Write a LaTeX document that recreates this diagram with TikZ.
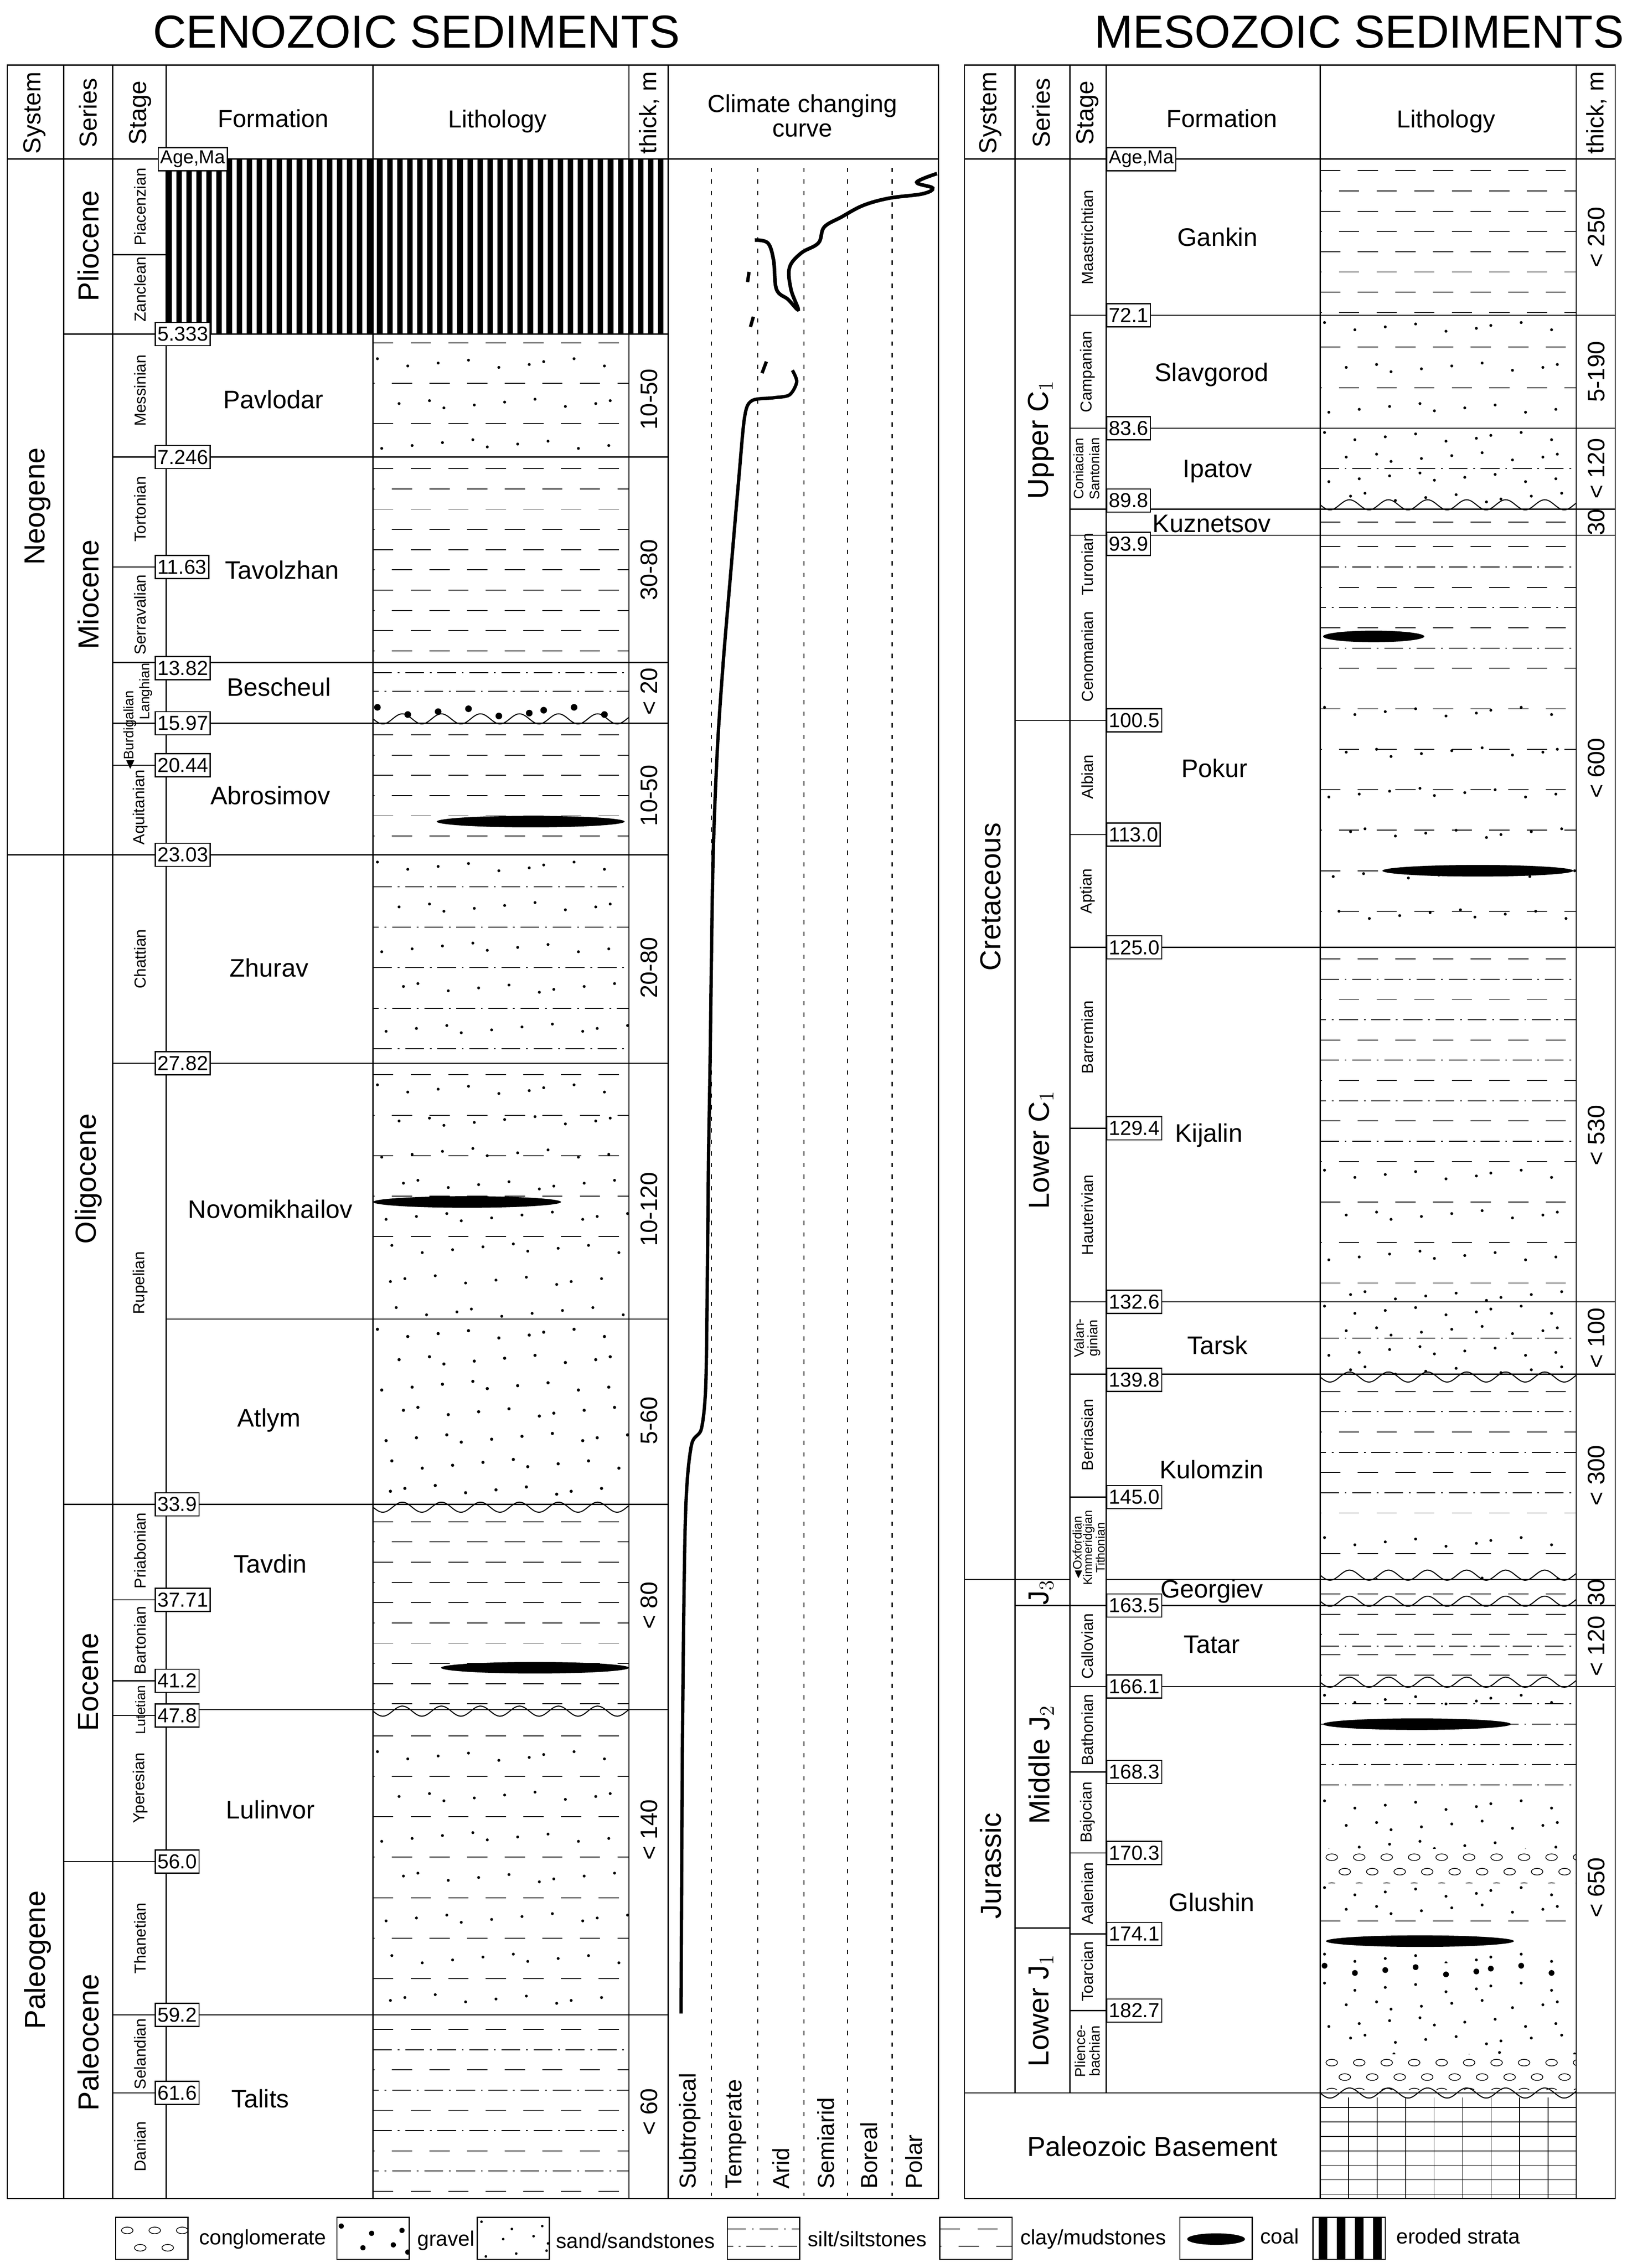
\documentclass[tikz,border=0pt]{standalone}
\usepackage{amssymb}
\usepackage{fontspec}
\setmainfont{Liberation Sans}
\begin{document}
\newcommand\fs[1]{\fontsize{#1}{#1}\selectfont}
\newcommand\Lclay[6]{\begin{scope}\clip (#1,#3) rectangle (#2,#4);
 \foreach \k in {0,...,30}{\pgfmathsetmacro\ph{mod(\k,2)*13}\pgfmathsetmacro\yy{#3+#6+\k*#5}
 \draw[line width=0.6pt,dash pattern=on 14pt off 12pt,dash phase=\ph pt] (#1,\yy) -- (#2,\yy);}\end{scope}}
\newcommand\Lsilt[6]{\begin{scope}\clip (#1,#3) rectangle (#2,#4);
 \foreach \k in {0,...,30}{\pgfmathsetmacro\ph{mod(\k,2)*9}\pgfmathsetmacro\yy{#3+#6+\k*#5}
 \draw[line width=0.6pt,dash pattern=on 13pt off 4pt on 1.2pt off 4pt,dash phase=\ph pt] (#1,\yy) -- (#2,\yy);}\end{scope}}
\newcommand\Ldots[7]{\begin{scope}\clip (#1,#3) rectangle (#2,#4);
 \foreach \k in {0,...,30}{\foreach \j in {0,...,9}{
 \pgfmathsetmacro\xx{#1+8+\j*19+mod(\k*7+\j*13,11)-5+mod(\k,2)*8}\pgfmathsetmacro\yy{#3+#6+\k*#5+mod(\j*5+\k*3,7)-3}
 \fill (\xx,\yy) circle (#7);}}\end{scope}}
\newcommand\Lcong[6]{\begin{scope}\clip (#1,#3) rectangle (#2,#4);
 \foreach \k in {0,...,10}{\foreach \j in {0,...,9}{
 \pgfmathsetmacro\xx{#1+8+\j*19+mod(\k,2)*9}\pgfmathsetmacro\yy{#3+#6+\k*#5}
 \draw[line width=0.5pt] (\xx,\yy) ellipse (4 and 2.3);}}\end{scope}}
\newcommand\Lcoal[3]{\fill (#1,#2) ellipse (#3 and 4);}
\newcommand\Lwave[3]{\draw[line width=0.7pt] plot[domain=0:#2-#1,samples=90,smooth] ({#1+\x},{#3-3+3.5*sin(\x*13.33)});}
\begin{tikzpicture}[x=1pt,y=-1pt,line width=0.8pt,
  age/.style={draw,fill=white,inner sep=1.5pt,font=\fs{14},anchor=west,minimum height=16pt},
  stg/.style={rotate=90,font=\fs{11}},
  ser/.style={rotate=90,font=\fs{20}},
  frm/.style={font=\fs{17.5}},
  thk/.style={rotate=90,font=\fs{16.5}},
  hd/.style={font=\fs{17}},
  clim/.style={rotate=90,font=\fs{16},anchor=west}]
\useasboundingbox (0,0) rectangle (1125,1568);
\node[font=\fs{32}] (t1) at (288,22) {CENOZOIC SEDIMENTS};
\node[font=\fs{32}] (t2) at (940,22) {MESOZOIC SEDIMENTS};
% ===== LEFT =====
\foreach \i in {0,...,49}{\fill (115+\i*6.94,110) rectangle ++(3.8,121);}
\def\a{258}\def\b{435}
\Lclay{\a}{\b}{231}{316}{28}{6}\Ldots{\a}{\b}{231}{316}{28}{20}{1}
\Lclay{\a}{\b}{316}{458}{14}{8}
\Lsilt{\a}{\b}{458}{486}{13}{7}\Ldots{\a}{\b}{486}{500}{30}{6}{2.3}
\Lclay{\a}{\b}{500}{591}{14}{8}\Lcoal{367}{568}{65}
\Ldots{\a}{\b}{591}{735}{28}{8}{1}\Lsilt{\a}{\b}{591}{735}{28}{22}
\Lclay{\a}{\b}{735}{860}{28}{8}\Ldots{\a}{\b}{735}{912}{22}{18}{1}\Lcoal{323}{831}{65}
\Ldots{\a}{\b}{912}{1040}{18}{10}{1.1}
\Lclay{\a}{\b}{1040}{1182}{14}{12}\Lcoal{370}{1153}{65}
\Lclay{\a}{\b}{1186}{1393}{28}{14}\Ldots{\a}{\b}{1186}{1393}{28}{28}{1}
\Lclay{\a}{\b}{1393}{1520}{28}{10}\Lsilt{\a}{\b}{1393}{1520}{28}{24}
\Lwave{\a}{\b}{500}\Lwave{\a}{\b}{1045}\Lwave{\a}{\b}{1186}
\draw (5,45) rectangle (649,1520);
\foreach \x in {44,78,115,258,435,462}{\draw (\x,45) -- (\x,1520);}
\draw (5,110) -- (649,110);
\foreach \y in {591}{\draw (5,\y) -- (44,\y);}
\foreach \y in {231,591,1040,1287}{\draw (44,\y) -- (78,\y);}
\foreach \y in {176,231,316,392,458,500,529,591,735,1040,1106,1162,1186,1287,1393,1447}{\draw (78,\y) -- (115,\y);}
\foreach \y in {231,316,458,500,591,735,912,1040,1182,1393}{\draw (115,\y) -- (462,\y);}
\node[ser,font=\fs{17}] (h1) at (24,78) {System};
\node[ser,font=\fs{17}] (h2) at (61,78) {Series};
\node[ser,font=\fs{17}] (h3) at (97,78) {Stage};
\node[hd] (h4) at (189,82) {Formation};
\node[hd] (h5) at (344,84) {Lithology};
\node[thk] (h6) at (449,78) {thick, m};
\node[hd,align=center] (h7) at (555,80) {Climate changing\\curve};
\node[age,font=\fs{13}] (am1) at (109,110) {Age,Ma};
\node[ser] (n1) at (26,350) {Neogene};
\node[ser] (n2) at (26,1355) {Paleogene};
\node[ser] (s1) at (61,170) {Pliocene};
\node[ser] (s2) at (61,411) {Miocene};
\node[ser] (s3) at (61,815) {Oligocene};
\node[ser] (s4) at (61,1163) {Eocene};
\node[ser] (s5) at (61,1412) {Paleocene};
\node[stg] (g1) at (97,143) {Piacenzian};
\node[stg] (g2) at (97,200) {Zanclean};
\node[stg] (g3) at (97,270) {Messinian};
\node[stg] (g4) at (97,352) {Tortonian};
\node[stg] (g5) at (97,425) {Serravalian};
\node[stg,font=\fs{9.5}] (g6) at (101,478) {Langhian};
\node[stg,font=\fs{9.5}] (g7) at (90,505) {$\blacktriangleleft$Burdigalian};
\node[stg] (g8) at (97,558) {Aquitanian};
\node[stg] (g9) at (97,663) {Chattian};
\node[stg] (g10) at (97,887) {Rupelian};
\node[stg] (g11) at (97,1072) {Priabonian};
\node[stg] (g12) at (97,1134) {Bartonian};
\node[stg,font=\fs{9.5}] (g13) at (97,1182) {Lutetian};
\node[stg] (g14) at (97,1236) {Yperesian};
\node[stg] (g15) at (97,1340) {Thanetian};
\node[stg] (g16) at (97,1420) {Selandian};
\node[stg] (g17) at (97,1484) {Danian};
\foreach \y/\t in {231/5.333,316/7.246,392/11.63,462/13.82,500/15.97,529/20.44,591/23.03,735/27.82,1040/33.9,1106/37.71,1162/41.2,1186/47.8,1287/56.0,1393/59.2,1447/61.6}{\node[age] at (107,\y) {\t};}
\node[frm] (f1) at (189,276) {Pavlodar};
\node[frm] (f2) at (195,394) {Tavolzhan};
\node[frm] (f3) at (193,475) {Bescheul};
\node[frm] (f4) at (187,550) {Abrosimov};
\node[frm] (f5) at (186,669) {Zhurav};
\node[frm] (f6) at (187,836) {Novomikhailov};
\node[frm] (f7) at (186,982) {Atlym};
\node[frm] (f8) at (187,1081) {Tavdin};
\node[frm] (f9) at (187,1251) {Lulinvor};
\node[frm] (f10) at (180,1451) {Talits};
\foreach \y/\t in {276/10-50,394/30-80,478/< 20,550/10-50,669/20-80,836/10-120,982/5-60,1110/< 80,1265/< 140,1460/< 60}{\node[thk] at (449,\y) {\t};}
\foreach \x in {492,524,556,586,617}{\draw[line width=0.7pt,dash pattern=on 3pt off 5pt] (\x,116) -- (\x,1518);}
\node[clim] (c1) at (477,1517) {Subtropical};
\node[clim] (c2) at (509,1517) {Temperate};
\node[clim] (c3) at (540,1517) {Arid};
\node[clim] (c4) at (571,1517) {Semiarid};
\node[clim] (c5) at (601,1517) {Boreal};
\node[clim] (c6) at (632,1517) {Polar};
\draw[line width=2.3pt] plot[smooth,tension=0.5] coordinates {(471,1392) (472,1200) (474,1050) (478,1000) (485,988) (488,960) (489,900) (490,800) (491,740) (493,600) (496,520) (500,460) (505,400) (511,330) (515,288) (520,277) (535,275) (546,273) (551,264) (548,256)};
\draw[line width=2.3pt] (527,258) -- (530,250) (519,226) -- (521,219) (517,195) -- (518,188);
\draw[line width=2.5pt] plot[smooth,tension=0.6] coordinates {(522,166) (531,168) (535,180) (537,200) (545,207) (552,214) (547,200) (546,185) (554,175) (566,168) (570,157) (582,150) (597,142) (615,137) (638,134) (645,130) (634,126) (648,120)};
% ===== RIGHT =====
\def\a{913}\def\b{1090}
\Lclay{\a}{\b}{110}{218}{14}{8}
\Ldots{\a}{\b}{218}{296}{28}{8}{1}\Lclay{\a}{\b}{218}{296}{28}{22}
\Ldots{\a}{\b}{296}{352}{14}{6}{1}\Lsilt{\a}{\b}{318}{330}{28}{6}
\Lclay{\a}{\b}{352}{370}{14}{9}
\Lclay{\a}{\b}{370}{655}{28}{8}\Lsilt{\a}{\b}{370}{470}{28}{22}\Ldots{\a}{\b}{470}{655}{28}{22}{1}
\Lcoal{950}{440}{35}\Lcoal{1022}{602}{66}
\Lclay{\a}{\b}{655}{900}{28}{8}\Lsilt{\a}{\b}{655}{790}{28}{22}\Ldots{\a}{\b}{790}{900}{28}{22}{1}
\Ldots{\a}{\b}{900}{950}{14}{6}{1}\Lsilt{\a}{\b}{920}{930}{28}{5}
\Lclay{\a}{\b}{950}{1092}{28}{12}\Lsilt{\a}{\b}{950}{1040}{28}{26}\Ldots{\a}{\b}{1040}{1092}{28}{26}{1}
\Lclay{\a}{\b}{1092}{1110}{14}{10}
\Lclay{\a}{\b}{1110}{1166}{14}{6}\Lsilt{\a}{\b}{1132}{1144}{28}{6}
\Lsilt{\a}{\b}{1166}{1240}{14}{12}\Ldots{\a}{\b}{1166}{1180}{28}{9}{1}\Lcoal{980}{1192}{65}
\Ldots{\a}{\b}{1240}{1278}{14}{8}{1}\Lcong{\a}{\b}{1278}{1302}{10}{6}
\Ldots{\a}{\b}{1302}{1325}{12}{6}{1}\Lclay{\a}{\b}{1322}{1334}{28}{6}\Lcoal{982}{1342}{65}
\Ldots{\a}{\b}{1350}{1357}{28}{4}{1}\Ldots{\a}{\b}{1357}{1368}{28}{5}{2}
\Ldots{\a}{\b}{1368}{1420}{12}{6}{1}\Lcong{\a}{\b}{1420}{1445}{10}{6}
\foreach \i in {1,...,7}{\draw[line width=0.5pt] (\a,1447+\i*10) -- (\b,1447+\i*10);}
\foreach \i in {1,...,8}{\draw[line width=0.5pt] (\a+\i*19.7,1450) -- (\a+\i*19.7,1520);}
\Lwave{\a}{\b}{352}\Lwave{\a}{\b}{955}\Lwave{\a}{\b}{1092}\Lwave{\a}{\b}{1110}\Lwave{\a}{\b}{1166}\Lwave{\a}{\b}{1450}
\draw (667,45) rectangle (1117,1520);
\foreach \x in {702,740,765}{\draw (\x,45) -- (\x,1447);}
\foreach \x in {913,1090}{\draw (\x,45) -- (\x,1520);}
\draw (667,110) -- (1117,110);
\draw (667,1092) -- (702,1092);
\draw (667,1447) -- (1117,1447);
\foreach \y in {498,1092,1110,1333}{\draw (702,\y) -- (740,\y);}
\foreach \y in {218,296,352,370,498,577,655,780,900,950,1035,1110,1166,1225,1281,1337,1390}{\draw (740,\y) -- (765,\y);}
\foreach \y in {218,296,352,370,655,900,950,1092,1110,1166}{\draw (765,\y) -- (1117,\y);}
\node[ser,font=\fs{17}] (rh1) at (685,78) {System};
\node[ser,font=\fs{17}] (rh2) at (720,78) {Series};
\node[ser,font=\fs{17}] (rh3) at (752,78) {Stage};
\node[hd] (rh4) at (845,82) {Formation};
\node[hd] (rh5) at (1000,84) {Lithology};
\node[thk] (rh6) at (1104,78) {thick, m};
\node[age,font=\fs{13}] (am2) at (765,110) {Age,Ma};
\node[ser] (rn1) at (685,620) {Cretaceous};
\node[ser] (rn2) at (685,1290) {Jurassic};
\node[ser] (rs1) at (720,304) {Upper C$_1$};
\node[ser] (rs2) at (720,795) {Lower C$_1$};
\node[ser] (rs3) at (720,1101) {J$_3$};
\node[ser] (rs4) at (720,1220) {Middle J$_2$};
\node[ser] (rs5) at (720,1390) {Lower J$_1$};
\node[stg] (rg1) at (752,164) {Maastrichtian};
\node[stg] (rg2) at (752,257) {Campanian};
\node[stg,font=\fs{9.5}] (rg3) at (746,324) {Coniacian};
\node[stg,font=\fs{9.5}] (rg4) at (757,324) {Santonian};
\node[stg] (rg5) at (752,390) {Turonian};
\node[stg] (rg6) at (752,454) {Cenomanian};
\node[stg] (rg7) at (752,537) {Albian};
\node[stg] (rg8) at (752,616) {Aptian};
\node[stg] (rg9) at (752,717) {Barremian};
\node[stg] (rg10) at (752,840) {Hauterivian};
\node[stg,font=\fs{9.5},align=center] (rg11) at (752,925) {Valan-\\ginian};
\node[stg] (rg12) at (752,992) {Berriasian};
\node[stg,font=\fs{8.5}] (rg13) at (745,1070) {$\blacktriangleleft$Oxfordian};
\node[stg,font=\fs{8.5}] (rg14) at (753,1070) {Kimmeridgian};
\node[stg,font=\fs{8.5}] (rg15) at (761,1070) {Tithonian};
\node[stg] (rg16) at (752,1138) {Callovian};
\node[stg] (rg17) at (752,1196) {Bathonian};
\node[stg] (rg18) at (752,1253) {Bajocian};
\node[stg] (rg19) at (752,1309) {Aalenian};
\node[stg] (rg20) at (752,1363) {Toarcian};
\node[stg,font=\fs{10},align=center] (rg21) at (752,1418) {Plience-\\bachian};
\foreach \y/\t in {218/72.1,296/83.6,346/89.8,376/93.9,498/100.5,577/113.0,655/125.0,780/129.4,900/132.6,954/139.8,1035/145.0,1110/163.5,1166/166.1,1225/168.3,1281/170.3,1337/174.1,1390/182.7}{\node[age] at (765,\y) {\t};}
\node[frm] (rf1) at (842,164) {Gankin};
\node[frm] (rf2) at (838,259) {Slavgorod};
\node[frm] (rf3) at (842,326) {Ipatov};
\node[frm] (rf4) at (838,362) {Kuznetsov};
\node[frm] (rf5) at (840,531) {Pokur};
\node[frm] (rf6) at (836,785) {Kijalin};
\node[frm] (rf7) at (842,930) {Tarsk};
\node[frm] (rf8) at (838,1016) {Kulomzin};
\node[frm] (rf9) at (838,1100) {Georgiev};
\node[frm] (rf10) at (838,1137) {Tatar};
\node[frm] (rf11) at (838,1315) {Glushin};
\node[frm,font=\fs{19}] (rf12) at (797,1484) {Paleozoic Basement};
\foreach \y/\t in {164/< 250,257/5-190,324/< 120,361/30,531/< 600,785/< 530,925/< 100,1020/< 300,1101/30,1138/< 120,1305/< 650}{\node[thk] at (1104,\y) {\t};}
\foreach \x in {80,233,330,503,650,816,908}{\draw (\x,1533) rectangle ++(50,29);}
\Lcong{80}{130}{1533}{1562}{12}{9}
\Ldots{233}{283}{1533}{1562}{12}{9}{1.8}
\Ldots{330}{380}{1533}{1562}{9}{6}{0.9}
\Lsilt{503}{553}{1533}{1562}{12}{8}
\Lclay{650}{700}{1533}{1562}{12}{8}
\Lcoal{841}{1548}{20}
\foreach \i in {0,...,3}{\fill (912+\i*12.5,1533) rectangle ++(6,29);}
\node[font=\fs{14.5},anchor=west] (l1) at (134,1548) {conglomerate};
\node[font=\fs{14.5},anchor=west] (l2) at (285,1549) {gravel};
\node[font=\fs{14.5},anchor=west] (l3) at (381,1549) {sand/sandstones};
\node[font=\fs{14.5},anchor=west] (l4) at (555,1548) {silt/siltstones};
\node[font=\fs{14.5},anchor=west] (l5) at (702,1548) {clay/mudstones};
\node[font=\fs{14.5},anchor=west] (l6) at (868,1546) {coal};
\node[font=\fs{14.5},anchor=west] (l7) at (962,1546) {eroded strata};
\end{tikzpicture}
\end{document}
